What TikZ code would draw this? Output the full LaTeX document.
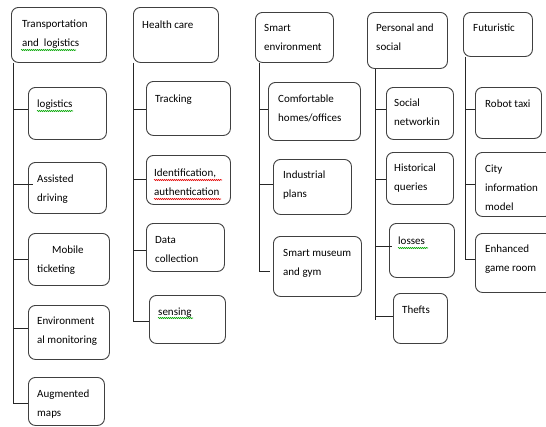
\documentclass[tikz,border=0pt]{standalone}
\usepackage{fontspec}
\setmainfont{Carlito}
\usetikzlibrary{decorations.pathmorphing}
\tikzset{
  x=1pt, y=-1pt,
  boxst/.style={draw=black!75, line width=0.9pt, rounded corners=7pt, inner sep=0pt},
  txt/.style={anchor=north west, align=left, inner sep=0pt, font=\fontsize{11}{19}\selectfont, text=black},
  conn/.style={draw=black!85, line width=0.8pt},
  redsq/.style={draw=red!90!black, line width=0.55pt, decorate, decoration={snake, segment length=2pt, amplitude=0.6pt}},
  greensq/.style={draw=green!65!black, line width=0.55pt, decorate, decoration={snake, segment length=2pt, amplitude=0.6pt}}
}
\newcommand{\mkbox}[8]{%
  \node[boxst, anchor=north west, minimum width={(#4-#2)*1pt}, minimum height={(#5-#3)*1pt}] (#1) at (#2,#3) {};
  \node[txt] (#1t) at (#6,#7-13.3) {\strut#8};
}
\begin{document}
\begin{tikzpicture}
\useasboundingbox (0,0) rectangle (546,426);
\clip (0,0) rectangle (546,426);
\fill[white] (0,0) rectangle (546,426);

% ---------- Transportation and logistics ----------
\mkbox{T}{11}{7}{106}{62}{22}{27}{Transportation\\and\ \ logistics}
\mkbox{t1}{28}{87}{106}{139}{37}{107}{logistics}
\mkbox{t2}{28}{162}{106}{213}{37}{182}{Assisted\\driving}
\mkbox{t3}{28}{233}{109}{285}{37}{253}{\hspace*{15pt}Mobile\\ticketing}
\mkbox{t4}{28}{305}{109}{359}{37}{324}{Environment\\al monitoring}
\mkbox{t5}{28}{377}{104}{425}{37}{397}{Augmented\\maps}
\coordinate (tT) at (13,403);
\draw[conn] (T.south -| tT) -- (tT);
\draw[conn] (tT |- 0,109) -- (t1.west |- 0,109);
\draw[conn] (tT |- 0,184) -- ([xshift=5pt]t2.west |- 0,184);
\draw[conn] (tT |- 0,259) -- (t3.west |- 0,259);
\draw[conn] (tT |- 0,328) -- (t4.west |- 0,328);
\draw[conn] (tT) -- (t5.west |- tT);

% ---------- Health care ----------
\mkbox{H}{133}{7}{218}{62}{142}{28}{Health care}
\mkbox{h1}{146}{81}{230}{135}{155}{102}{Tracking}
\mkbox{h2}{146}{155}{230}{204}{154}{176}{Identification,\\authentication}
\mkbox{h3}{146}{223}{224}{271}{155}{243}{Data\\collection}
\mkbox{h4}{149}{295}{225}{343}{158}{315}{sensing}
\coordinate (tH) at (133,321);
\draw[conn] (H.south -| tH) -- (tH);
\draw[conn] (tH |- 0,109) -- (h1.west |- 0,109);
\draw[conn] (tH |- 0,179) -- (h2.west |- 0,179);
\draw[conn] (tH |- 0,250) -- (h3.west |- 0,250);
\draw[conn] (tH) -- (h4.west |- tH);

% ---------- Smart environment ----------
\mkbox{S}{255}{12}{333}{62}{264}{31}{Smart\\environment}
\mkbox{s1}{268}{82}{360}{140}{278}{102}{Comfortable\\homes/offices}
\mkbox{s2}{273}{159}{351}{214}{283}{178}{Industrial\\plans}
\mkbox{s3}{273}{236}{361}{296}{283}{256}{Smart museum\\and gym}
\coordinate (tS) at (259,271);
\draw[conn] (S.south -| tS) -- (tS);
\draw[conn] (tS |- 0,109) -- (s1.west |- 0,109);
\draw[conn] (tS |- 0,184) -- (s2.west |- 0,184);
\draw[conn] (tS) -- ([xshift=-3pt]s3.west |- tS);

% ---------- Personal and social ----------
\mkbox{P}{367}{12}{447}{68}{376}{31}{Personal and\\social}
\mkbox{p1}{386}{87}{453}{139}{394}{106}{Social\\networkin}
\mkbox{p2}{386}{152}{453}{204}{394}{171}{Historical\\queries}
\mkbox{p3}{389}{223}{454}{277}{398}{244}{losses}
\mkbox{p4}{393}{293}{447}{343}{402}{313}{Thefts}
\coordinate (tP) at (375,320);
\draw[conn] (P.south -| tP) -- (tP);
\draw[conn] (tP |- 0,109) -- (p1.west |- 0,109);
\draw[conn] (tP |- 0,179) -- (p2.west |- 0,179);
\draw[conn] (tP |- 0,246) -- ([xshift=3pt]p3.west |- 0,246);
\draw[conn] (tP |- 0,316) -- (p4.west |- 0,316);

% ---------- Futuristic ----------
\mkbox{F}{463}{12}{532}{56}{473}{31}{Futuristic}
\mkbox{f1}{475}{87}{541}{138}{485}{107}{Robot taxi}
\mkbox{f2}{475}{152}{552}{216}{485}{172}{City\\information\\model}
\mkbox{f3}{475}{233}{552}{292}{485}{252}{Enhanced\\game room}
\coordinate (tF) at (465,259);
\draw[conn] (F.south -| tF) -- (tF);
\draw[conn] (tF |- 0,109) -- (f1.west |- 0,109);
\draw[conn] (tF |- 0,184) -- (f2.west |- 0,184);
\draw[conn] (tF) -- (f3.west |- tF);

% ---------- spell-check squiggles ----------
\draw[greensq] (21,50) -- (76,50);
\draw[greensq] (37,111) -- (73,111);
\draw[redsq] (154,180) -- (222,180);
\draw[redsq] (154,199) -- (221,199);
\draw[greensq] (158,318) -- (193,318);
\draw[greensq] (398,248) -- (428,248);
\end{tikzpicture}
\end{document}
